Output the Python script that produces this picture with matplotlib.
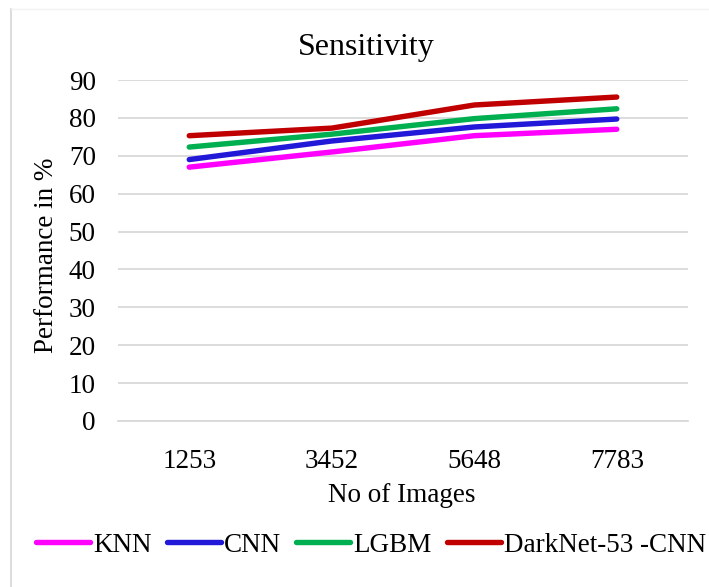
import matplotlib
matplotlib.use("Agg")
import matplotlib.pyplot as plt
from matplotlib.lines import Line2D

categories = ["1253", "3452", "5648", "7783"]
knn = [67.0, 71.0, 75.3, 77.0]
cnn = [69.0, 73.9, 77.6, 79.7]
lgbm = [72.3, 75.7, 79.8, 82.4]
darknet = [75.3, 77.3, 83.4, 85.5]
series_names = ["KNN", "CNN", "LGBM", "DarkNet-53 -CNN"]
yticks = [0, 10, 20, 30, 40, 50, 60, 70, 80, 90]

colors = ["#FF00FF", "#2218D8", "#00B050", "#C00000"]

plt.rcParams['font.family'] = ['Liberation Serif', 'DejaVu Serif']

W, H = 709, 587
fig = plt.figure(figsize=(W / 100, H / 100), dpi=100)
ax = fig.add_axes([118 / W, 1 - 421 / H, (688 - 118) / W, (421 - 80) / H])

x = list(range(len(categories)))
for vals, name, c in zip([knn, cnn, lgbm, darknet], series_names, colors):
    ax.plot(x, vals, color=c, lw=3.9, solid_capstyle='round', solid_joinstyle='round', label=name, zorder=3)

ax.set_xlim(-0.5, len(categories) - 0.5)
ax.set_ylim(0, 90)
ax.set_yticks(yticks)
ax.set_xticks(x)
ax.set_xticklabels(categories)
ax.grid(axis='y', color='#D9D9D9', lw=1.3)
ax.set_axisbelow(True)
for s in ax.spines.values():
    s.set_visible(False)
ax.spines['bottom'].set_visible(True)
ax.spines['bottom'].set_color('#D9D9D9')
ax.spines['bottom'].set_linewidth(1.3)
ax.tick_params(axis='both', length=0, labelsize=19.5)
ax.tick_params(axis='y', pad=16)
ax.tick_params(axis='x', pad=20)

fig.text(366 / W, 1 - 47 / H, "Sensitivity", ha='center', va='center', fontsize=23)
fig.text(402 / W, 1 - 495 / H, "No of Images", ha='center', va='center', fontsize=19.5)
fig.text(47 / W, 1 - 255 / H, "Performance in %", ha='center', va='center', fontsize=19.5, rotation=90)

handles = [Line2D([0], [0], color=c, lw=3.9, solid_capstyle='round') for c in colors]
fig.legend(handles, series_names, loc='center', bbox_to_anchor=(371 / W, 1 - 545 / H), ncol=4,
           frameon=False, fontsize=19.5, handlelength=2.0, handletextpad=0.12, columnspacing=0.55,
           borderaxespad=0, borderpad=0)

# chart area border (left and top)
fig.add_artist(Line2D([11 / W, 11 / W], [0, 1 - 9 / H], transform=fig.transFigure, color='#D9D9D9', lw=1.3))
fig.add_artist(Line2D([11 / W, 1], [1 - 9 / H, 1 - 9 / H], transform=fig.transFigure, color='#F2F2F2', lw=1.0))

fig.savefig("out.png", dpi=100)
